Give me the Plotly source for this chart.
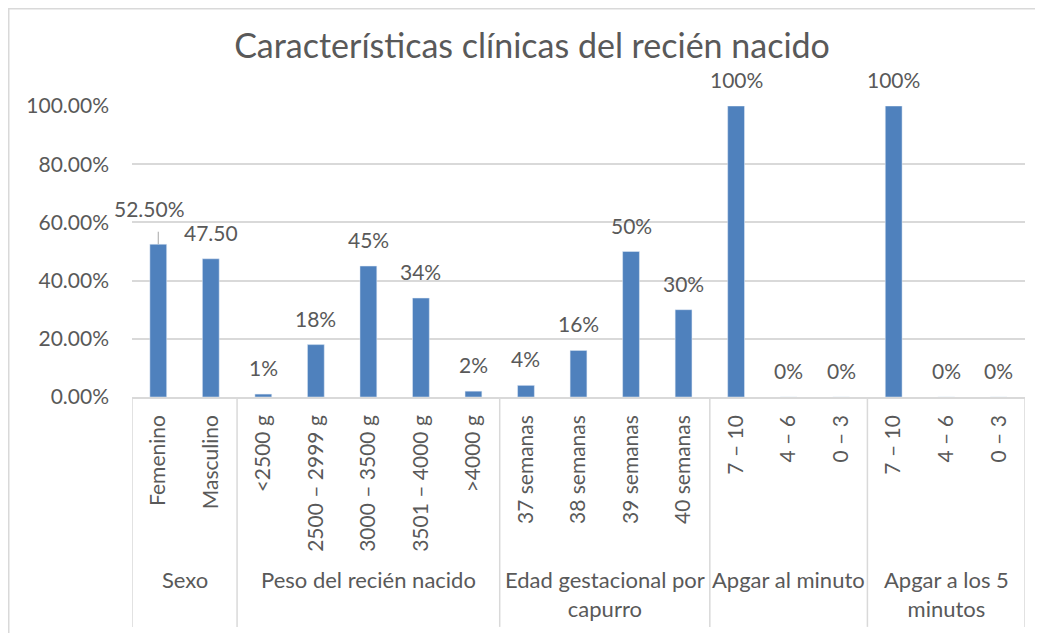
import plotly.graph_objects as go

# group labels (outer level of the category axis)
groups = ["Sexo", "Peso del recién nacido", "Edad gestacional por<br>capurro",
          "Apgar al minuto", "Apgar a los 5<br>minutos"]
group_sizes = [2, 5, 4, 3, 3]

# inner categories
categories = ["Femenino", "Masculino",
              "&lt;2500 g", "2500 – 2999 g", "3000 – 3500 g", "3501 – 4000 g", "&gt;4000 g",
              "37 semanas", "38 semanas", "39 semanas", "40 semanas",
              "7 – 10", "4 – 6", "0 – 3",
              "7 – 10", "4 – 6", "0 – 3"]
values = [0.525, 0.475,
          0.01, 0.18, 0.45, 0.34, 0.02,
          0.04, 0.16, 0.50, 0.30,
          1.00, 0.0, 0.0,
          1.00, 0.0, 0.0]
value_labels = ["52.50%", "47.50",
                "1%", "18%", "45%", "34%", "2%",
                "4%", "16%", "50%", "30%",
                "100%", "0%", "0%",
                "100%", "0%", "0%"]

BAR = "#4F81BD"
TXT = "#595959"
GRID = "#D9D9D9"
FONT = "Lato"

W, H = 1043, 633
L, T, PW, PH = 124, 98, 893, 291   # page has an 8px body margin

idx = list(range(len(categories)))

fig = go.Figure(go.Bar(x=idx, y=values, marker_color=BAR, width=0.32))

ann = []
for i, (v, lab) in enumerate(zip(values, value_labels)):
    if i == 0:
        # label pulled off the bar with a leader line
        ann.append(dict(x=i, y=v, xref="x", yref="y", text="", showarrow=True,
                        arrowhead=0, arrowwidth=1, arrowcolor="#A6A6A6", ax=0, ay=-14))
        ann.append(dict(x=i, y=v, xref="x", yref="y", text=lab, showarrow=False,
                        yanchor="bottom", yshift=21, xshift=-9,
                        font=dict(family=FONT, size=21, color=TXT)))
    else:
        ann.append(dict(x=i, y=v, xref="x", yref="y", text=lab, showarrow=False,
                        yanchor="bottom", yshift=12,
                        font=dict(family=FONT, size=21, color=TXT)))

shapes = []
start = 0
bounds = [-0.5]
for g, n in zip(groups, group_sizes):
    center = start + (n - 1) / 2
    ann.append(dict(x=center, y=-0.575, xref="x", yref="paper", text=g, showarrow=False,
                    yanchor="top", font=dict(family=FONT, size=22, color=TXT)))
    start += n
    bounds.append(start - 0.5)
for b in bounds:
    shapes.append(dict(type="line", xref="x", yref="paper", x0=b, x1=b, y0=0, y1=-0.79,
                       line=dict(color=GRID, width=1.5)))

# chart border
shapes.append(dict(type="rect", xref="paper", yref="paper",
                   x0=(0.75 - L) / PW, x1=1.1, y0=-1.2, y1=(T + PH - 0.75) / PH,
                   line=dict(color=GRID, width=1.5), layer="below"))

fig.update_layout(
    width=W, height=H,
    margin=dict(l=L, r=W - L - PW, t=T, b=H - T - PH),
    paper_bgcolor="white", plot_bgcolor="white",
    showlegend=False,
    title=dict(text="Características clínicas del recién nacido",
               x=524 / W, xref="container", xanchor="center",
               y=1 - 38 / H, yref="container", yanchor="middle",
               font=dict(family=FONT, size=34, color=TXT)),
    xaxis=dict(range=[-0.5, len(categories) - 0.5], tickvals=idx, ticktext=categories,
               tickangle=-90, showline=True, linecolor=GRID, linewidth=1.5,
               showgrid=False, zeroline=False, ticks="", ticklabelstandoff=8,
               tickfont=dict(family=FONT, size=21, color=TXT)),
    yaxis=dict(range=[0, 1], dtick=0.2, tickformat=".2%", showgrid=True,
               gridcolor=GRID, gridwidth=1.5, zeroline=False, showline=False,
               ticks="", ticklabelstandoff=22,
               tickfont=dict(family=FONT, size=21, color=TXT)),
    annotations=ann,
    shapes=shapes,
)

fig.write_html("out.html")
